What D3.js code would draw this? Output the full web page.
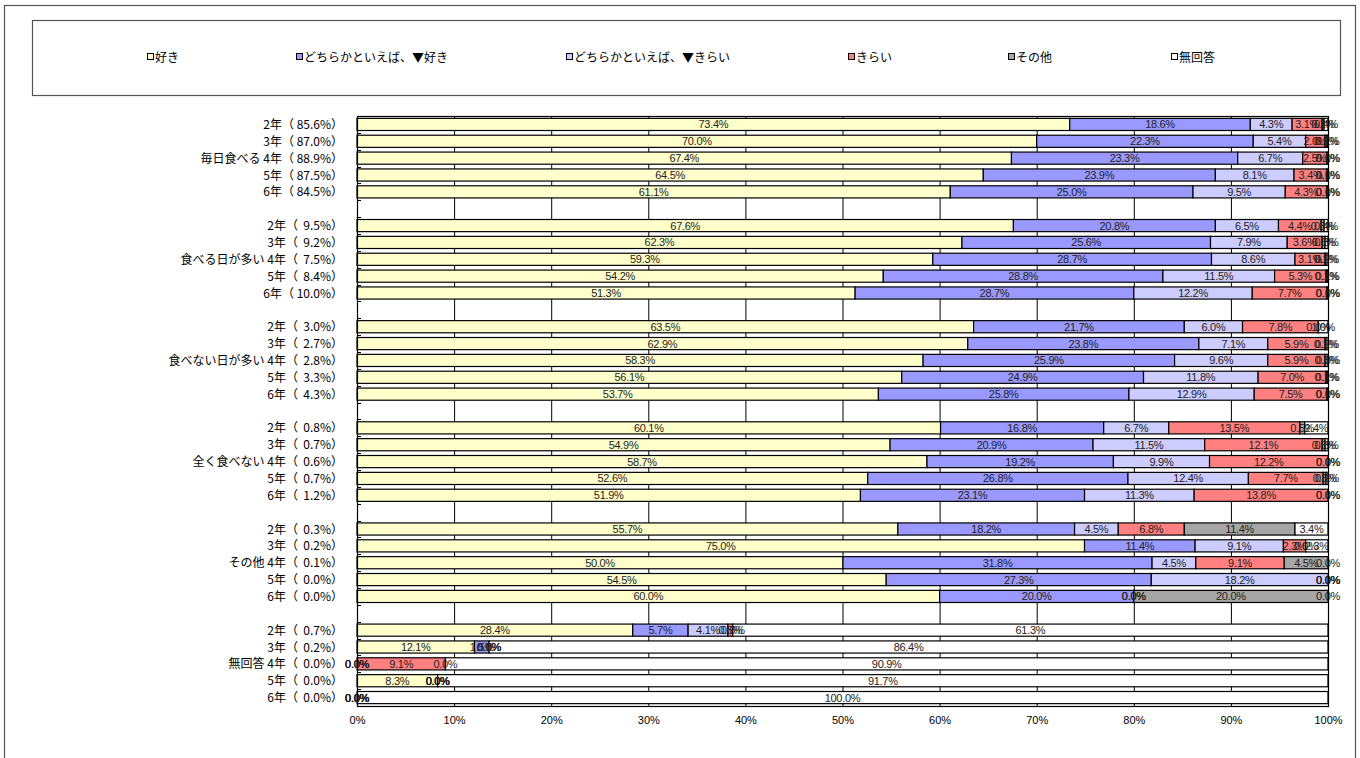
<!DOCTYPE html>
<html>
<head>
<meta charset="utf-8">
<script src="https://cdn.jsdelivr.net/npm/d3@7"></script>
<style>
  html, body { margin: 0; padding: 0; background: #fff; }
  svg { display: block; }
  text { font-family: "Liberation Sans", "Noto Sans CJK JP", sans-serif; }
  .jp { font-family: "Noto Sans CJK JP", sans-serif; }
</style>
</head>
<body>
<svg id="chart" width="1360" height="758"></svg>
<script>
// Breakfast habit groups, each split by school grade
const groups = ["毎日食べる", "食べる日が多い", "食べない日が多い", "全く食べない", "その他", "無回答"];
const grades = ["2年", "3年", "4年", "5年", "6年"];
// Share of respondents in each group, per grade (%)
const groupShares = [
  [85.6, 87.0, 88.9, 87.5, 84.5],
  [9.5, 9.2, 7.5, 8.4, 10.0],
  [3.0, 2.7, 2.8, 3.3, 4.3],
  [0.8, 0.7, 0.6, 0.7, 1.2],
  [0.3, 0.2, 0.1, 0.0, 0.0],
  [0.7, 0.2, 0.0, 0.0, 0.0]
];

// Answer categories (series)
const seriesNames = ["好き", "どちらかといえば、▼好き", "どちらかといえば、▼きらい", "きらい", "その他", "無回答"];
const seriesColors = ["#FFFFCC", "#9999FF", "#CCCCFF", "#FF8080", "#A6A6A6", "#FFFFFF"];

// Values per row, in order group by group, grade 2 to 6 (%)
const like = [73.4, 70.0, 67.4, 64.5, 61.1, 67.6, 62.3, 59.3, 54.2, 51.3, 63.5, 62.9, 58.3, 56.1, 53.7,
  60.1, 54.9, 58.7, 52.6, 51.9, 55.7, 75.0, 50.0, 54.5, 60.0, 28.4, 12.1, 0.0, 8.3, 0.0];
const ratherLike = [18.6, 22.3, 23.3, 23.9, 25.0, 20.8, 25.6, 28.7, 28.8, 28.7, 21.7, 23.8, 25.9, 24.9, 25.8,
  16.8, 20.9, 19.2, 26.8, 23.1, 18.2, 11.4, 31.8, 27.3, 20.0, 5.7, 1.5, 0.0, 0.0, 0.0];
const ratherDislike = [4.3, 5.4, 6.7, 8.1, 9.5, 6.5, 7.9, 8.6, 11.5, 12.2, 6.0, 7.1, 9.6, 11.8, 12.9,
  6.7, 11.5, 9.9, 12.4, 11.3, 4.5, 9.1, 4.5, 18.2, 0.0, 4.1, 0.0, 0.0, 0.0, 0.0];
const dislike = [3.1, 2.0, 2.5, 3.4, 4.3, 4.4, 3.6, 3.1, 5.3, 7.7, 7.8, 5.9, 5.9, 7.0, 7.5,
  13.5, 12.1, 12.2, 7.7, 13.8, 6.8, 2.3, 9.1, 0.0, 0.0, 0.5, 0.0, 9.1, 0.0, 0.0];
const other = [0.2, 0.2, 0.1, 0.1, 0.1, 0.3, 0.3, 0.1, 0.1, 0.1, 0.0, 0.1, 0.3, 0.1, 0.1,
  0.5, 0.3, 0.0, 0.3, 0.0, 11.4, 0.0, 4.5, 0.0, 20.0, 0.0, 0.0, 0.0, 0.0, 0.0];
const noAnswer = [0.4, 0.1, 0.0, 0.0, 0.0, 0.4, 0.3, 0.2, 0.1, 0.0, 1.0, 0.2, 0.0, 0.1, 0.0,
  2.4, 0.3, 0.0, 0.2, 0.0, 3.4, 2.3, 0.0, 0.0, 0.0, 61.3, 86.4, 90.9, 91.7, 100.0];

const xTicks = [0, 0.1, 0.2, 0.3, 0.4, 0.5, 0.6, 0.7, 0.8, 0.9, 1.0];

// ---- build rows (a blank slot separates groups) ----
const seriesValues = [like, ratherLike, ratherDislike, dislike, other, noAnswer];
const keys = seriesNames.map((_, i) => "s" + i);
const rows = [];
const slots = [];
groups.forEach((g, gi) => {
  grades.forEach((gr, ri) => {
    const idx = gi * 5 + ri;
    const share = groupShares[gi][ri].toFixed(1);
    const pad = share.length < 4 ? "  " : " ";
    const label = (ri === 2 ? g + " " : "") + gr + "（" + pad + share + "%）";
    const row = { slot: "r" + idx, label };
    keys.forEach((k, si) => row[k] = seriesValues[si][idx]);
    rows.push(row);
    slots.push("r" + idx);
  });
  if (gi < groups.length - 1) slots.push("gap" + gi);
});

const svg = d3.select("#chart");

// chart frame
svg.append("rect").attr("x", 4.5).attr("y", 5.5).attr("width", 1351).attr("height", 780)
  .attr("fill", "none").attr("stroke", "#555").attr("stroke-width", 1.2);

// ---- legend ----
svg.append("rect").attr("x", 32.5).attr("y", 20.5).attr("width", 1308).attr("height", 75)
  .attr("fill", "#fff").attr("stroke", "#555").attr("stroke-width", 1.2);
const legendX = [147, 296, 566, 848, 1008, 1171];
const legend = svg.append("g").selectAll("g").data(seriesNames).join("g")
  .attr("transform", (d, i) => `translate(${legendX[i]},57)`);
legend.append("rect").attr("x", 0.5).attr("y", -3.5).attr("width", 6).attr("height", 6)
  .attr("fill", (d, i) => seriesColors[i]).attr("stroke", "#000").attr("stroke-width", 1);
legend.append("text").attr("class", "jp").attr("x", 8).attr("y", 4.5)
  .attr("font-size", 12).attr("fill", "#000").text(d => d);

// ---- scales ----
const plot = { left: 357, right: 1328, top: 116, bottom: 706 };
const x = d3.scaleLinear().domain([0, 1]).range([plot.left, plot.right]);
const y = d3.scaleBand().domain(slots).range([plot.top, plot.bottom]).paddingInner(0.28).paddingOuter(0.14);

const stacked = d3.stack().keys(keys).offset(d3.stackOffsetExpand)(rows);

// gridlines
svg.append("g").selectAll("line").data(xTicks.slice(1, -1)).join("line")
  .attr("x1", d => x(d) + 0.5).attr("x2", d => x(d) + 0.5)
  .attr("y1", plot.top).attr("y2", plot.bottom)
  .attr("stroke", "#000").attr("stroke-width", 1);

// bars
const layer = svg.append("g").selectAll("g").data(stacked).join("g")
  .attr("fill", (d, i) => seriesColors[i]);
layer.selectAll("rect").data(d => d).join("rect")
  .attr("x", d => x(d[0]))
  .attr("y", d => y(d.data.slot))
  .attr("width", d => Math.max(0, x(d[1]) - x(d[0])))
  .attr("height", y.bandwidth())
  .attr("stroke", "#000").attr("stroke-width", 1.2);

// value labels, centered in each segment (zero-width segments included)
const labels = svg.append("g");
stacked.forEach((ser, si) => {
  labels.selectAll(null).data(ser).join("text")
    .attr("x", d => (x(d[0]) + x(d[1])) / 2)
    .attr("y", d => y(d.data.slot) + y.bandwidth() / 2 + 4)
    .attr("text-anchor", "middle")
    .attr("font-size", 11)
    .attr("letter-spacing", -0.3)
    .attr("fill", "#222")
    .text(d => d.data[ser.key].toFixed(1) + "%");
});

// plot area border (left axis + right edge + bottom axis)
svg.append("rect").attr("x", plot.left + 0.5).attr("y", plot.top + 0.5)
  .attr("width", plot.right - plot.left).attr("height", plot.bottom - plot.top)
  .attr("fill", "none").attr("stroke", "#000").attr("stroke-width", 1.2);

// category tick marks on the left axis at slot boundaries
const step = y.step();
const boundaries = d3.range(slots.length + 1).map(i => plot.top + i * (plot.bottom - plot.top) / slots.length);
svg.append("g").selectAll("line").data(boundaries).join("line")
  .attr("x1", plot.left).attr("x2", plot.left + 4)
  .attr("y1", d => Math.round(d) + 0.5).attr("y2", d => Math.round(d) + 0.5)
  .attr("stroke", "#000").attr("stroke-width", 1);

// category labels
const yLab = svg.append("g");
yLab.selectAll("text").data(rows).join("text")
  .attr("class", "jp")
  .attr("x", 343)
  .attr("y", d => y(d.slot) + y.bandwidth() / 2 + 4.5)
  .attr("text-anchor", "end")
  .attr("font-size", 12)
  .attr("fill", "#000")
  .style("white-space", "pre")
  .text(d => d.label);

// x axis
const xAxis = d3.axisBottom(x).tickValues(xTicks).tickFormat(d3.format(".0%")).tickSize(0).tickPadding(10);
const gx = svg.append("g").attr("transform", `translate(0,${plot.bottom})`).call(xAxis);
gx.select(".domain").remove();
gx.selectAll("text").attr("font-size", 11).attr("fill", "#000")
  .attr("font-family", "Liberation Sans, sans-serif");
</script>
</body>
</html>
